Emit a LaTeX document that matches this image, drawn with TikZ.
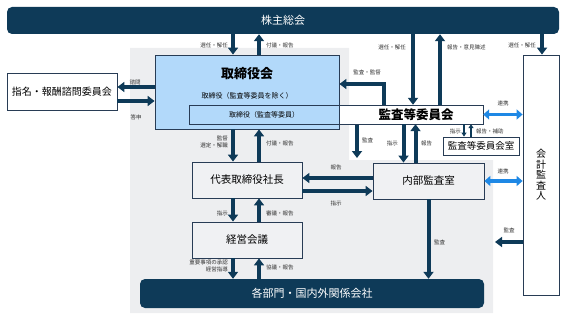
\documentclass[tikz,border=0pt]{standalone}
\usepackage{fontspec}
\setmainfont{Noto Sans CJK JP}
\usetikzlibrary{arrows.meta,positioning,calc}
\definecolor{navycolor}{RGB}{14,58,88}
\definecolor{boardcolor}{RGB}{178,217,250}
\definecolor{bgcolor}{RGB}{237,238,240}
\definecolor{boxgray}{RGB}{240,241,243}
\definecolor{linkcolor}{RGB}{30,136,229}
\definecolor{edgecolor}{RGB}{40,60,85}

\begin{document}
\begin{tikzpicture}[
    x=1pt, y=-1pt,
    box/.style={rectangle, draw=edgecolor, line width=0.8pt, inner sep=0pt, align=center},
    bar/.style={rectangle, rounded corners=5pt, fill=navycolor, text=white, inner sep=0pt, font=\fontsize{11}{13}\selectfont},
    arrow/.style={-{Triangle[width=10pt,length=7pt]}, line width=4pt, draw=navycolor},
    smallarrow/.style={-{Triangle[width=5pt,length=4pt]}, line width=1.6pt, draw=navycolor},
    linkarrow/.style={{Triangle[width=10pt,length=6pt]}-{Triangle[width=10pt,length=6pt]}, line width=3.5pt, draw=linkcolor},
    lbl/.style={font=\fontsize{5.5}{6.5}\selectfont, inner sep=0pt, align=right, text=black!80}
]
\useasboundingbox (0,0) rectangle (567,321);

% Executive area
\fill[bgcolor] (130,48) -- (349,48) -- (349,160) -- (493,160) -- (493,313) -- (130,313) -- cycle;

% Bars
\node[bar, minimum width=552pt, minimum height=27pt] (meeting) at (283,20.5) {株主総会};
\node[bar, minimum width=344pt, minimum height=29pt] (dept) at (312,293.5) {各部門・国内外関係会社};

% Board and audit committee
\node[rectangle, fill=white, inner sep=0pt, minimum width=144pt, minimum height=19pt] (committee) at (411,114.5) {};
\node[box, fill=boardcolor, minimum width=184pt, minimum height=74pt] (board) at (247,92) {};
\node[box, fill=none, line width=1pt, minimum width=294pt, minimum height=19pt] (band) at (336,114.5) {};
\node[font=\fontsize{13}{15}\selectfont\bfseries] (boardtitle) at (247,74) {取締役会};
\node[font=\fontsize{7}{8}\selectfont] (boardsub) at (247,96) {取締役（監査等委員を除く）};
\node[font=\fontsize{7}{8}\selectfont] (boardac) at (264,114.5) {取締役（監査等委員）};
\node[font=\fontsize{12.5}{14}\selectfont\bfseries] (committeetitle) at (416,114.5) {監査等委員会};

% Other boxes
\node[box, fill=white, minimum width=110pt, minimum height=37pt, font=\fontsize{10}{12}\selectfont] (nomination) at (62,91.5) {指名・報酬諮問委員会};
\node[box, fill=white, minimum width=36pt, minimum height=240pt, font=\fontsize{10}{10.5}\selectfont] (auditor) at (541,175) {会\\計\\監\\査\\人};
\node[box, fill=boxgray, minimum width=110pt, minimum height=36pt, font=\fontsize{10.5}{12}\selectfont] (president) at (247,180) {代表取締役社長};
\node[box, fill=boxgray, minimum width=110pt, minimum height=36pt, font=\fontsize{10.5}{12}\selectfont] (mgmt) at (247,240) {経営会議};
\node[box, fill=boxgray, minimum width=111pt, minimum height=36pt, font=\fontsize{10.5}{12}\selectfont] (internal) at (428.5,181) {内部監査室};
\node[box, fill=white, minimum width=76pt, minimum height=18pt, font=\fontsize{9.5}{11}\selectfont] (office) at (481,146) {監査等委員会室};

% Arrows from the shareholders' meeting
\draw[arrow] ([xshift=-14pt]board.north |- meeting.south) -- ([xshift=-14pt]board.north);
\draw[arrow] ([xshift=12pt]board.north) -- ([xshift=12pt]board.north |- meeting.south);
\draw[arrow] ([xshift=2pt]committee.north |- meeting.south) -- ([xshift=2pt]committee.north);
\draw[arrow] ([xshift=29pt]committee.north) -- ([xshift=29pt]committee.north |- meeting.south);
\draw[arrow] ([xshift=1pt]auditor.north |- meeting.south) -- ([xshift=1pt]auditor.north);

% Nomination committee
\draw[arrow] ([yshift=5pt]board.west) -- ([yshift=5pt]board.west -| nomination.east);
\draw[arrow] ([yshift=-9pt]board.west -| nomination.east) -- ([yshift=-9pt]board.west);

% Audit committee to board
\coordinate (elbow) at (384,84);
\draw[arrow] (elbow |- committee.north) |- (board.east |- elbow);

% Executive chain
\draw[arrow] ([xshift=-14pt]board.south) -- ([xshift=-14pt]president.north);
\draw[arrow] ([xshift=12pt]president.north) -- ([xshift=12pt]board.south);
\draw[arrow] ([xshift=-14pt]president.south) -- ([xshift=-14pt]mgmt.north);
\draw[arrow] ([xshift=12pt]mgmt.north) -- ([xshift=12pt]president.south);
\draw[arrow] ([xshift=-14pt]mgmt.south) -- ([xshift=-14pt]mgmt.south |- dept.north);
\draw[arrow] ([xshift=12pt]mgmt.south |- dept.north) -- ([xshift=12pt]mgmt.south);

% Audit committee downwards
\coordinate (auditend) at (357,158);
\draw[arrow] (auditend |- band.south) -- (auditend);
\draw[arrow] ([xshift=-25pt]internal.north |- committee.south) -- ([xshift=-25pt]internal.north);
\draw[arrow] ([xshift=-13pt]internal.north) -- ([xshift=-13pt]internal.north |- committee.south);
\draw[smallarrow] ([xshift=-17pt]office.north |- committee.south) -- ([xshift=-17pt]office.north);
\draw[smallarrow] ([xshift=-10pt]office.north) -- ([xshift=-10pt]office.north |- committee.south);

% Links to the accounting auditor
\draw[linkarrow] (committee.east) -- (committee.east -| auditor.west);
\draw[linkarrow] (internal.east) -- (internal.east -| auditor.west);

% Internal audit
\draw[arrow] ([yshift=3pt]internal.west) -- ([yshift=3pt]internal.west -| president.east);
\draw[arrow] ([yshift=-10pt]internal.west -| president.east) -- ([yshift=-10pt]internal.west);
\draw[arrow] (internal.south) -- (internal.south |- dept.north);
\coordinate (auditorend) at (495,242);
\draw[arrow] (auditorend -| auditor.west) -- (auditorend);

% Labels
\node[lbl, anchor=east] (l1) at (228,45) {選任・解任};
\node[lbl, anchor=west] (l2) at (266,45) {付議・報告};
\node[lbl, anchor=east] (l3) at (406,47) {選任・解任};
\node[lbl, anchor=west] (l4) at (447,47) {報告・意見陳述};
\node[lbl, anchor=east] (l5) at (536,45) {選任・解任};
\node[lbl] (l6) at (367,72) {監査・監督};
\node[lbl] (l7) at (135,82) {諮問};
\node[lbl] (l8) at (136,117) {答申};
\node[lbl, anchor=east] (l9) at (228,142) {監督\\選定・解職};
\node[lbl, anchor=west] (l10) at (266,143) {付議・報告};
\node[lbl, anchor=west] (l11) at (362,140) {監査};
\node[lbl, anchor=east] (l12) at (398,143) {指示};
\node[lbl, anchor=west] (l13) at (421,143) {報告};
\node[lbl, anchor=east] (l14) at (461,131) {指示};
\node[lbl, anchor=west] (l15) at (476,131) {報告・補助};
\node[lbl] (l16) at (503,103) {連携};
\node[lbl] (l17) at (503,171) {連携};
\node[lbl] (l18) at (336,167) {報告};
\node[lbl] (l19) at (336,203) {指示};
\node[lbl, anchor=east] (l20) at (228,213) {指示};
\node[lbl, anchor=west] (l21) at (266,213) {審議・報告};
\node[lbl, anchor=east] (l22) at (228,266) {重要事項の承認\\経営指導};
\node[lbl, anchor=west] (l23) at (266,267) {協議・報告};
\node[lbl, anchor=west] (l24) at (434,242) {監査};
\node[lbl] (l25) at (509,230) {監査};

\end{tikzpicture}
\end{document}
